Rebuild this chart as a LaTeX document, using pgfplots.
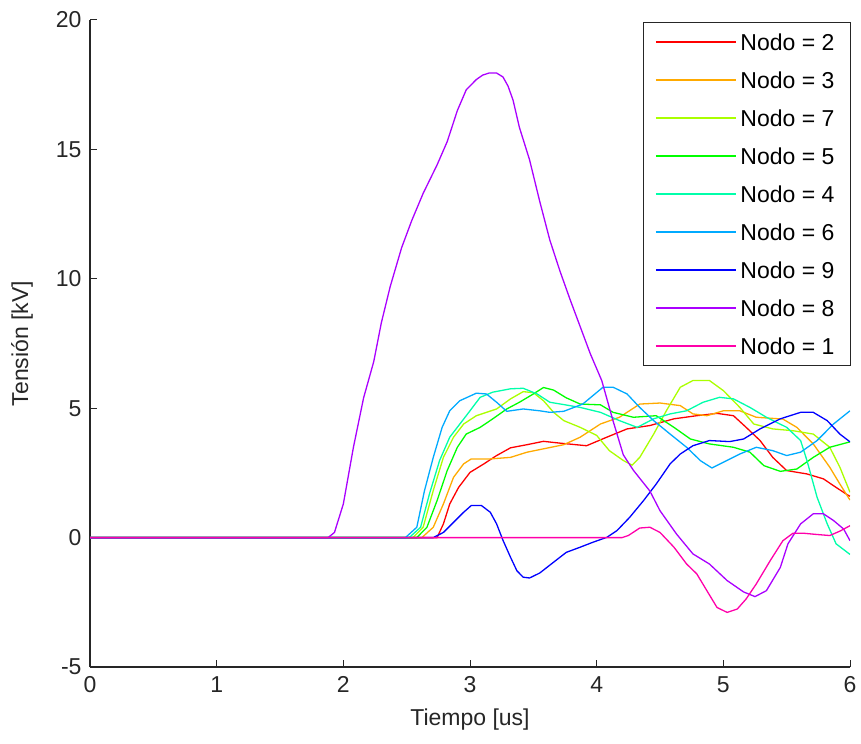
\documentclass[border=0pt]{standalone}
\usepackage{fontspec}
\setmainfont{Liberation Sans}
\usepackage{pgfplots}
\pgfplotsset{compat=1.18}
\definecolor{c2}{RGB}{255,0,0}
\definecolor{c3}{RGB}{255,170,0}
\definecolor{c7}{RGB}{170,255,0}
\definecolor{c5}{RGB}{0,255,0}
\definecolor{c4}{RGB}{0,255,170}
\definecolor{c6}{RGB}{0,170,255}
\definecolor{c9}{RGB}{0,0,255}
\definecolor{c8}{RGB}{170,0,255}
\definecolor{c1}{RGB}{255,0,170}
\newcommand{\tfont}{\fontsize{23bp}{27bp}\selectfont}
\begin{document}
\begin{tikzpicture}
\begin{axis}[
  scale only axis, width=760bp, height=647bp,
  xmin=0, xmax=6, ymin=-5, ymax=20,
  xtick={0,1,2,3,4,5,6}, ytick={-5,0,5,10,15,20},
  axis x line*=bottom, axis y line*=left,
  axis line style={-, line width=1.3bp, color=black!85},
  tick align=inside, major tick length=7bp,
  tick style={line width=1bp, color=black!85},
  /pgf/number format/assume math mode=true,
  tick label style={font=\tfont, color=black!85},
  xticklabel style={yshift=-6bp},
  yticklabel style={xshift=-5bp},
  label style={font=\tfont, color=black!85},
  xlabel={Tiempo [us]}, ylabel={Tensión [kV]},
  xlabel style={at={(rel axis cs:0.5,0)}, anchor=center, yshift=-53bp},
  ylabel style={at={(rel axis cs:0,0.5)}, anchor=center, yshift=68bp},
  every axis plot/.append style={line width=1.3bp},
  legend cell align=left,
  legend image code/.code={\draw[#1, line width=1.3bp] (0bp,0bp) -- (80bp,0bp);},
  legend style={at={(rel axis cs:1,1)}, anchor=north east, xshift=1bp, yshift=-2bp,
    draw=black!85, line width=1.2bp, fill=white, font=\tfont,
    inner xsep=12bp, inner ysep=8.5bp, row sep=16bp,
    nodes={inner xsep=4bp, inner ysep=3bp, text height=16bp, text depth=0bp}},
]
\addplot[c2] coordinates {(0,0) (2.74,0) (2.79,0.53) (2.84,1.3) (2.91,1.94) (3.00,2.52) (3.11,2.85) (3.21,3.17) (3.32,3.47) (3.45,3.59) (3.58,3.72) (3.71,3.65) (3.92,3.55) (4.08,3.88) (4.24,4.2) (4.42,4.33) (4.61,4.59) (4.79,4.71) (4.95,4.8) (5.08,4.71) (5.18,4.26) (5.29,3.75) (5.39,3.1) (5.50,2.59) (5.66,2.46) (5.79,2.27) (5.89,1.94) (5.99,1.62) (6.0,1.6)};
\addlegendentry{Nodo = 2}
\addplot[c3] coordinates {(0,0) (2.62,0) (2.71,0.4) (2.79,1.3) (2.87,2.33) (2.95,2.85) (3.01,3.04) (3.16,3.04) (3.32,3.1) (3.45,3.3) (3.58,3.43) (3.74,3.59) (3.87,3.88) (4.03,4.39) (4.18,4.65) (4.34,5.16) (4.50,5.2) (4.66,5.1) (4.76,4.78) (4.87,4.71) (5.00,4.9) (5.13,4.9) (5.26,4.65) (5.47,4.58) (5.58,4.26) (5.71,3.62) (5.84,2.72) (5.92,2.07) (6.0,1.45)};
\addlegendentry{Nodo = 3}
\addplot[c7] coordinates {(0,0) (2.55,0) (2.63,0.4) (2.71,1.82) (2.79,3.1) (2.87,3.88) (2.95,4.39) (3.05,4.71) (3.21,4.97) (3.32,5.36) (3.42,5.64) (3.50,5.6) (3.58,5.29) (3.66,4.84) (3.74,4.52) (3.87,4.26) (4.00,3.95) (4.10,3.36) (4.21,2.98) (4.28,2.8) (4.34,3.1) (4.45,4.0) (4.55,4.9) (4.66,5.81) (4.76,6.07) (4.89,6.07) (5.00,5.68) (5.13,5.03) (5.24,4.39) (5.39,4.2) (5.55,4.13) (5.71,4.0) (5.84,3.49) (5.92,2.72) (6.0,1.75)};
\addlegendentry{Nodo = 7}
\addplot[c5] coordinates {(0,0) (2.58,0) (2.66,0.4) (2.74,1.43) (2.82,2.59) (2.90,3.49) (2.97,4.0) (3.08,4.26) (3.18,4.59) (3.29,4.97) (3.39,5.23) (3.50,5.55) (3.58,5.8) (3.66,5.7) (3.76,5.4) (3.87,5.16) (4.03,5.13) (4.13,4.84) (4.29,4.65) (4.47,4.71) (4.61,4.26) (4.74,3.81) (4.89,3.62) (5.08,3.49) (5.21,3.3) (5.32,2.78) (5.45,2.56) (5.58,2.65) (5.71,3.1) (5.84,3.49) (6.0,3.7)};
\addlegendentry{Nodo = 5}
\addplot[c4] coordinates {(0,0) (2.52,0) (2.61,0.4) (2.68,1.69) (2.76,2.98) (2.84,3.88) (2.92,4.39) (3.00,4.9) (3.08,5.42) (3.18,5.62) (3.32,5.75) (3.42,5.77) (3.53,5.55) (3.63,5.23) (3.74,5.14) (3.87,5.03) (4.03,4.84) (4.18,4.52) (4.32,4.26) (4.45,4.59) (4.58,4.78) (4.71,4.9) (4.84,5.23) (4.97,5.42) (5.08,5.36) (5.21,5.03) (5.34,4.65) (5.50,4.26) (5.61,3.75) (5.66,2.98) (5.74,1.56) (5.82,0.53) (5.89,-0.24) (6.0,-0.65)};
\addlegendentry{Nodo = 4}
\addplot[c6] coordinates {(0,0) (2.49,0) (2.58,0.4) (2.64,1.8) (2.71,3.1) (2.78,4.26) (2.84,4.9) (2.92,5.29) (3.05,5.58) (3.13,5.55) (3.21,5.23) (3.29,4.88) (3.42,4.97) (3.55,4.9) (3.63,4.84) (3.74,4.88) (3.89,5.16) (4.05,5.81) (4.13,5.81) (4.24,5.55) (4.34,5.03) (4.45,4.52) (4.58,4.0) (4.71,3.49) (4.82,2.97) (4.91,2.69) (5.00,2.91) (5.13,3.23) (5.26,3.49) (5.39,3.36) (5.50,3.17) (5.61,3.3) (5.74,3.75) (5.87,4.39) (6.0,4.9)};
\addlegendentry{Nodo = 6}
\addplot[c9] coordinates {(0,0) (2.71,0) (2.79,0.2) (2.87,0.59) (2.95,0.98) (3.01,1.24) (3.09,1.24) (3.16,0.98) (3.21,0.53) (3.26,-0.1) (3.32,-0.76) (3.37,-1.28) (3.42,-1.53) (3.47,-1.56) (3.55,-1.37) (3.66,-0.95) (3.76,-0.57) (3.87,-0.37) (3.97,-0.18) (4.08,0.01) (4.16,0.27) (4.26,0.78) (4.37,1.43) (4.47,2.07) (4.58,2.85) (4.66,3.23) (4.76,3.55) (4.89,3.75) (5.05,3.71) (5.16,3.81) (5.29,4.2) (5.45,4.59) (5.61,4.84) (5.71,4.84) (5.82,4.52) (5.92,4.0) (6.0,3.7)};
\addlegendentry{Nodo = 9}
\addplot[c8] coordinates {(0,0) (1.88,0) (1.93,0.2) (2.00,1.3) (2.08,3.5) (2.16,5.4) (2.24,6.8) (2.30,8.3) (2.37,9.7) (2.46,11.2) (2.54,12.25) (2.63,13.3) (2.74,14.4) (2.82,15.3) (2.90,16.5) (2.97,17.3) (3.05,17.7) (3.10,17.87) (3.15,17.95) (3.21,17.95) (3.26,17.8) (3.30,17.45) (3.34,16.9) (3.39,15.85) (3.47,14.6) (3.55,13.0) (3.63,11.5) (3.71,10.3) (3.79,9.2) (3.87,8.15) (3.95,7.1) (4.04,6.07) (4.13,4.5) (4.21,3.2) (4.29,2.6) (4.42,1.8) (4.50,1.04) (4.63,0.14) (4.76,-0.63) (4.89,-1.02) (5.03,-1.66) (5.16,-2.1) (5.25,-2.28) (5.34,-2.05) (5.45,-1.15) (5.51,-0.24) (5.61,0.53) (5.71,0.92) (5.79,0.92) (5.87,0.66) (5.95,0.33) (6.0,-0.12)};
\addlegendentry{Nodo = 8}
\addplot[c1] coordinates {(0,0) (4.20,0) (4.25,0.08) (4.34,0.37) (4.42,0.4) (4.50,0.2) (4.61,-0.37) (4.71,-1.02) (4.79,-1.4) (4.87,-2.05) (4.95,-2.7) (5.03,-2.89) (5.11,-2.76) (5.18,-2.37) (5.26,-1.79) (5.37,-0.89) (5.47,-0.12) (5.55,0.17) (5.63,0.17) (5.74,0.12) (5.84,0.08) (5.92,0.25) (6.0,0.46)};
\addlegendentry{Nodo = 1}
\coordinate (BL) at (rel axis cs:0,0);
\coordinate (TR) at (rel axis cs:1,1);
\end{axis}
\pgfresetboundingbox
\path ([xshift=-90bp,yshift=-76bp]BL) rectangle ([xshift=11bp,yshift=20bp]TR);
\end{tikzpicture}
\end{document}
